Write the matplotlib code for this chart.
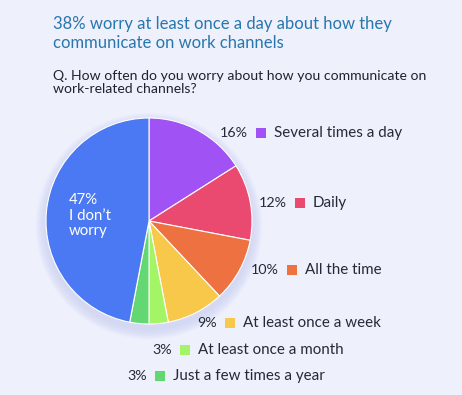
import matplotlib
matplotlib.use("Agg")
import matplotlib.pyplot as plt
from matplotlib.patches import Circle, Rectangle

# data
categories = ["Several times a day", "Daily", "All the time", "At least once a week",
              "At least once a month", "Just a few times a year", "I don\u2019t worry"]
shares = [16, 12, 10, 9, 3, 3, 47]
colors = ["#a052f4", "#ea4a6f", "#ee7141", "#f8c84b", "#a3f565", "#63d772", "#4b79f4"]

title = "38% worry at least once a day about how they\ncommunicate on work channels"
question = "Q. How often do you worry about how you communicate on\nwork-related channels?"

# label layout in pixels (x of the percent text, y of the line)
label_pos = [(220, 133), (259, 203), (251, 270), (197, 323), (152, 350), (127, 376)]

bg = "#eef0fc"
W, H = 462, 395
plt.rcParams["font.family"] = ["Lato", "DejaVu Sans"]

fig = plt.figure(figsize=(W / 100, H / 100), dpi=100)
fig.patch.set_facecolor(bg)

# pie
cx, cy, r = 149, 221, 103
ax = fig.add_axes([(cx - r) / W, 1 - (cy + r) / H, 2 * r / W, 2 * r / H])
ax.axis("off")

# soft shadow under the pie
for i in range(10):
    ax.add_patch(Circle((0, -0.05), 1.0 + 0.01 * (10 - i), color="#c3c9ee",
                        alpha=0.07, lw=0, zorder=0, clip_on=False))

wedges, _ = ax.pie(shares, colors=colors, startangle=90, counterclock=False, radius=1,
                   wedgeprops=dict(edgecolor="white", linewidth=0.8))
for w in wedges:
    w.set_zorder(2)
ax.set_xlim(-1, 1)
ax.set_ylim(-1, 1)
ax.set_aspect("equal")

ax.text(-0.78, 0.05, f"{shares[-1]}%\nI don\u2019t\nworry", color="white", fontsize=10.8,
        ha="left", va="center", linespacing=1.15, zorder=3)

# overlay in pixel coords for titles and labels
ov = fig.add_axes([0, 0, 1, 1], facecolor="none")
ov.set_xlim(0, W)
ov.set_ylim(H, 0)
ov.axis("off")

ov.text(53, 33.5, title, color="#2776ad", fontsize=12, ha="left", va="center",
        linespacing=1.25)
ov.text(53, 82.5, question, color="#1f2230", fontsize=10.1, ha="left", va="center",
        linespacing=1.12)

for (x, y), cat, val, col in zip(label_pos, categories, shares, colors):
    t = ov.text(x, y, f"{val}%", color="#262a38", fontsize=10.3, ha="left", va="center")
    fig.canvas.draw()
    bb = t.get_window_extent()
    xs = bb.x1 + 8
    ov.add_patch(Rectangle((xs, y - 5), 10, 10, color=col, lw=0))
    ov.text(xs + 18, y, cat, color="#262a38", fontsize=10.9, ha="left", va="center")

fig.savefig("out.png", dpi=100, facecolor=bg)
